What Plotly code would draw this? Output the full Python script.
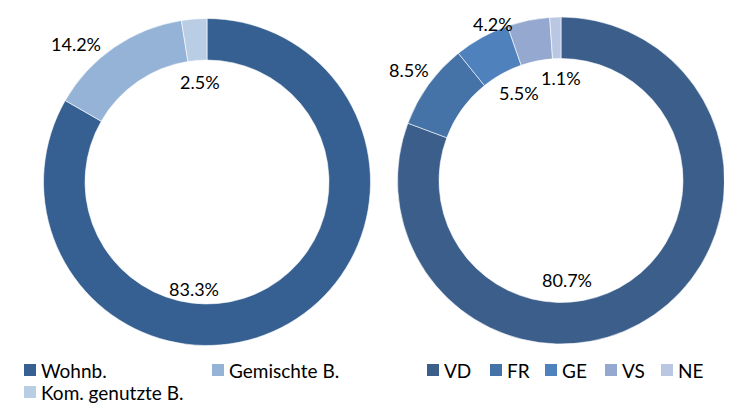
import plotly.graph_objects as go

# ---------------- data ----------------
left_labels = ["Wohnb.", "Gemischte B.", "Kom. genutzte B."]
left_values = [83.3, 14.2, 2.5]
right_labels = ["VD", "FR", "GE", "VS", "NE"]
right_values = [80.7, 8.5, 5.5, 4.2, 1.1]

# ---------------- styles / layout ----------------
left_colors = ["#376092", "#95B3D7", "#B9CDE5"]
right_colors = ["#3B5E8B", "#4572A7", "#4F81BD", "#95A9D0", "#B9C7E3"]

WIN_W, WIN_H = 732, 403
OFF = 8  # default page body margin
W, H = WIN_W - OFF, WIN_H - OFF
FONT = "Lato, 'Open Sans', sans-serif"


def px(x):
    return (x - OFF) / W


def py(y):
    return 1 - (y - OFF) / H


# donut geometry (window pixel centre, radius)
left_c, left_r = (207, 182), 163.5
right_c, right_r = (561, 180.5), 163.5
HOLE = 0.746

# data label centres (window pixels)
left_label_pos = [(194, 289), (76, 44), (200, 82)]
right_label_pos = [(567, 280), (409, 70), (519, 93), (493, 24), (561, 78)]

# legend key positions (window pixels: left edge of square, row centre)
left_legend_pos = [(24, 370), (212, 370), (24, 392)]
right_legend_pos = [(427, 370), (490, 370), (545, 370), (605, 370), (661, 370)]
KEY = 12


def domain(c, r):
    cx, cy = c
    return dict(x=[max(0, px(cx - r)), min(1, px(cx + r))],
                y=[max(0, py(cy + r)), min(1, py(cy - r))])


fig = go.Figure()
fig.add_trace(go.Pie(
    labels=left_labels, values=left_values, hole=HOLE, sort=False,
    direction="clockwise", rotation=0, textinfo="none",
    marker=dict(colors=left_colors, line=dict(color="white", width=0.6)),
    domain=domain(left_c, left_r), showlegend=False,
    hovertemplate="%{label}: %{value}%<extra></extra>",
))
fig.add_trace(go.Pie(
    labels=right_labels, values=right_values, hole=HOLE, sort=False,
    direction="clockwise", rotation=0, textinfo="none",
    marker=dict(colors=right_colors, line=dict(color="white", width=0.6)),
    domain=domain(right_c, right_r), showlegend=False,
    hovertemplate="%{label}: %{value}%<extra></extra>",
))

annotations = []
shapes = []

# data labels
for vals, pos in ((left_values, left_label_pos), (right_values, right_label_pos)):
    for v, (x, y) in zip(vals, pos):
        annotations.append(dict(
            text=f"{v:.1f}%", x=px(x), y=py(y), xref="paper", yref="paper",
            xanchor="center", yanchor="middle", showarrow=False,
            font=dict(family=FONT, size=18, color="#000000"),
        ))

# legends
for labels, colors, pos in ((left_labels, left_colors, left_legend_pos),
                            (right_labels, right_colors, right_legend_pos)):
    for lab, col, (x, y) in zip(labels, colors, pos):
        shapes.append(dict(
            type="rect", xref="paper", yref="paper",
            x0=px(x), x1=px(x + KEY), y0=py(y + KEY / 2), y1=py(y - KEY / 2),
            fillcolor=col, line=dict(width=0),
        ))
        annotations.append(dict(
            text=lab, x=px(x + KEY + 3), y=py(y), xref="paper", yref="paper",
            xanchor="left", yanchor="middle", showarrow=False,
            font=dict(family=FONT, size=19, color="#000000"),
        ))

fig.update_layout(
    width=W, height=H,
    margin=dict(l=0, r=0, t=0, b=0),
    paper_bgcolor="white", plot_bgcolor="white",
    annotations=annotations, shapes=shapes,
    showlegend=False,
)

fig.write_html("out.html")
